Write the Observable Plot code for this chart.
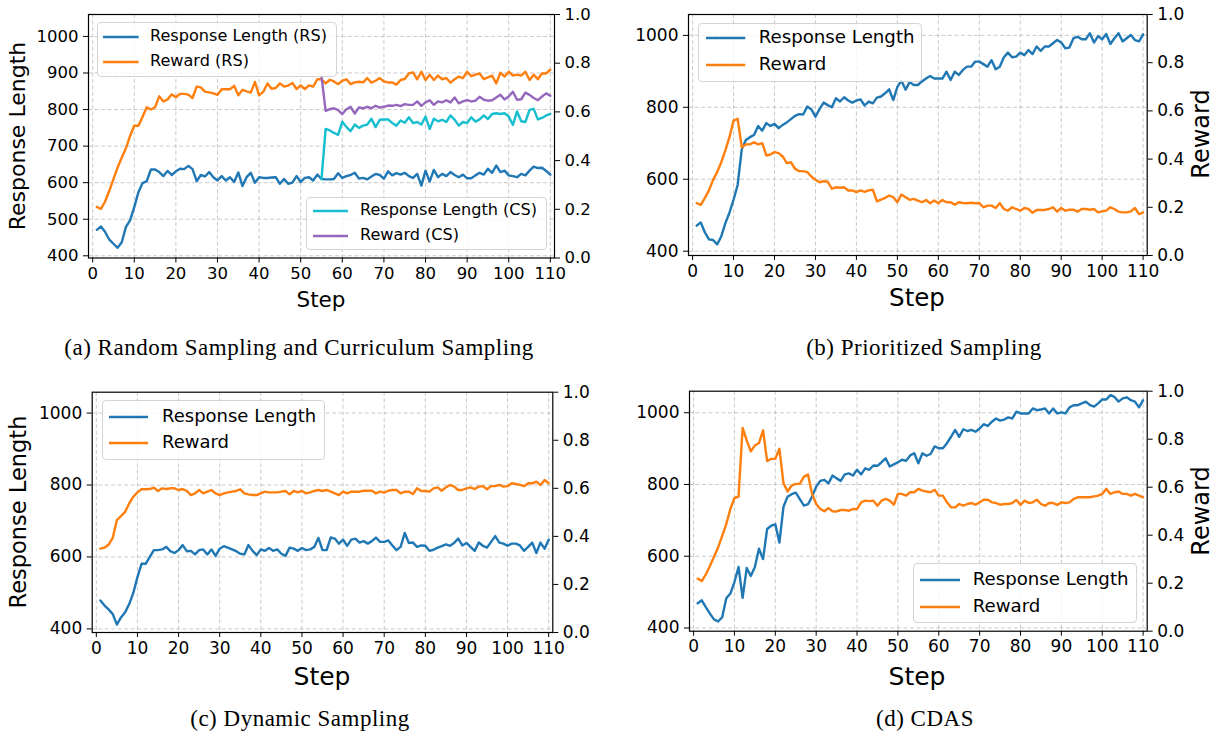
<!DOCTYPE html>
<html><head><meta charset="utf-8">
<script src="https://cdn.jsdelivr.net/npm/d3@7"></script>
<script src="https://cdn.jsdelivr.net/npm/@observablehq/plot@0.6"></script>
<style>
body{margin:0;background:#fff;}
#fig{position:relative;width:1215px;height:736px;overflow:hidden;background:#fff;}
#fig svg.plot{position:absolute;left:0;top:0;}
.lbl{position:absolute;white-space:nowrap;font-family:"DejaVu Sans";color:#000;line-height:1;transform:translate(-50%,-50%);}
.rot{transform:translate(-50%,-50%) rotate(-90deg);}
.cap{position:absolute;white-space:nowrap;font-family:"Liberation Serif";color:#000;line-height:1;letter-spacing:0.5px;transform:translate(-50%,-50%);}
.leg{position:absolute;box-sizing:border-box;border:1px solid #d4d4d4;border-radius:4px;background:rgba(255,255,255,0.8);}
.leg span{position:absolute;white-space:nowrap;font-family:"DejaVu Sans";color:#000;line-height:1;}
.leg svg{position:absolute;overflow:visible;}
</style></head><body><div id="fig"></div>
<script>
// ---------------- data ----------------
const steps = Array.from({length: 110}, (_, i) => i + 1);
const xTicks = [0, 10, 20, 30, 40, 50, 60, 70, 80, 90, 100, 110];
const rewardTicks = [0, 0.2, 0.4, 0.6, 0.8, 1.0];
const lengthTicksA = [400, 500, 600, 700, 800, 900, 1000];
const lengthTicks = [400, 600, 800, 1000];

// (a) Random Sampling (RS), steps 1..110
const lenRS = [471,480,465,444,433,422,437,479,497,533,
574,599,604,636,636,629,618,632,621,631,
638,637,646,637,604,621,617,629,615,606,
618,606,615,602,628,591,615,627,600,615,
613,613,614,615,597,610,597,600,618,602,
613,615,606,622,610,609,609,610,626,613,
618,621,627,611,613,609,617,624,621,611,
631,620,626,622,627,618,613,624,592,633,
603,635,615,624,618,629,621,615,622,612,
612,620,627,622,638,627,647,629,633,620,
618,615,624,620,633,644,640,641,632,622];
const rewRS = [.210,.202,.232,.276,.324,.372,.413,.451,.502,.543,
.543,.580,.619,.610,.619,.664,.643,.651,.672,.660,
.674,.674,.671,.657,.704,.701,.683,.680,.676,.670,
.693,.693,.693,.707,.668,.691,.684,.679,.723,.668,
.682,.717,.695,.698,.717,.704,.708,.719,.694,.709,
.694,.709,.704,.734,.734,.717,.732,.725,.714,.728,
.734,.714,.721,.724,.721,.739,.720,.728,.739,.725,
.721,.721,.712,.731,.735,.758,.762,.734,.765,.731,
.753,.731,.749,.734,.739,.720,.734,.745,.739,.765,
.747,.753,.758,.735,.742,.749,.717,.761,.745,.765,
.749,.753,.749,.765,.731,.753,.734,.758,.758,.773];
// (a) Curriculum Sampling (CS), steps 55..110
const csStart = 55;
const lenCS = [610,
747,743,736,731,767,752,741,759,750,756,
759,775,752,772,773,773,763,756,770,764,
779,763,766,759,781,747,775,768,772,766,
784,772,756,766,763,779,767,773,784,774,
788,790,788,790,781,758,795,768,766,799,
802,773,777,784,788];
const rewCS = [.745,
.604,.611,.615,.607,.591,.611,.621,.593,.618,.615,
.621,.615,.625,.618,.621,.626,.625,.629,.624,.632,
.629,.629,.643,.625,.639,.648,.629,.643,.639,.648,
.639,.659,.635,.643,.648,.643,.646,.662,.650,.646,
.648,.659,.670,.651,.663,.683,.650,.652,.679,.670,
.657,.648,.663,.676,.666];

// (b) Prioritized Sampling
const lenPS = [471,480,452,433,431,419,441,478,507,543,
584,683,709,717,723,748,735,756,748,754,
742,751,758,767,776,781,780,802,794,774,
795,813,806,800,825,816,828,819,813,819,
822,805,816,811,827,830,839,850,820,857,
874,849,870,862,862,872,880,887,880,880,
880,899,876,899,890,904,913,913,927,927,
920,913,931,906,913,939,952,939,941,952,
945,959,948,969,957,969,969,978,987,980,
964,966,992,996,989,989,1006,980,998,989,
1004,976,992,1006,983,992,1001,987,983,1003];
const rewPS = [.217,.210,.239,.270,.314,.346,.387,.436,.491,.560,
.567,.449,.461,.461,.470,.461,.466,.415,.419,.429,
.425,.411,.383,.387,.360,.350,.350,.346,.328,.314,
.304,.308,.306,.277,.283,.281,.283,.270,.270,.263,
.270,.264,.270,.273,.225,.232,.239,.249,.242,.221,
.253,.242,.231,.235,.228,.221,.230,.217,.228,.217,
.230,.221,.221,.211,.221,.218,.217,.219,.217,.218,
.200,.207,.207,.197,.217,.193,.186,.200,.193,.186,
.197,.193,.177,.189,.189,.189,.193,.200,.182,.197,
.186,.190,.190,.182,.193,.193,.190,.193,.179,.183,
.186,.200,.193,.182,.179,.179,.183,.197,.172,.178];

// (c) Dynamic Sampling
const lenDS = [479,465,454,441,412,432,446,469,500,544,
581,581,600,619,619,621,628,616,611,619,
633,616,617,607,619,621,607,621,603,623,
630,626,621,616,609,607,633,617,605,621,
617,625,617,621,609,603,626,623,617,625,
619,621,628,653,619,619,654,651,637,648,
631,648,651,640,644,637,644,654,642,642,
646,632,619,628,667,639,640,628,632,631,
617,620,626,630,635,631,639,651,632,639,
628,617,640,631,626,642,658,640,637,631,
637,637,632,617,628,640,611,640,623,648];
const rewDS = [.349,.353,.366,.394,.468,.484,.502,.537,.565,.583,
.596,.596,.597,.603,.589,.600,.597,.600,.600,.593,
.597,.589,.572,.579,.593,.579,.586,.593,.579,.572,
.579,.583,.586,.589,.596,.579,.575,.572,.572,.579,
.586,.583,.583,.583,.586,.589,.575,.589,.583,.589,
.579,.583,.589,.593,.589,.593,.586,.579,.572,.586,
.579,.586,.586,.586,.590,.590,.590,.579,.586,.582,
.590,.593,.593,.579,.586,.586,.576,.600,.589,.589,
.586,.600,.604,.590,.604,.614,.607,.593,.593,.600,
.604,.597,.607,.609,.596,.609,.609,.614,.607,.609,
.621,.618,.614,.609,.621,.621,.628,.614,.635,.621];

// (d) CDAS
const lenCD = [469,477,458,440,424,418,430,483,496,528,
570,484,567,545,570,621,592,676,685,689,
638,738,766,773,777,759,741,745,766,794,
810,813,803,825,817,810,828,831,825,841,
828,845,841,853,852,862,873,850,856,862,
869,866,881,887,859,887,880,885,906,901,
901,915,933,952,933,954,949,952,947,956,
968,963,975,984,978,981,987,984,1003,998,
998,998,1012,1007,1009,1012,998,1012,998,1001,
998,1015,1021,1021,1026,1031,1021,1017,1026,1037,
1037,1049,1044,1031,1040,1043,1035,1031,1015,1035];
const rewCD = [.219,.209,.237,.272,.310,.349,.397,.446,.509,.555,
.561,.847,.795,.749,.774,.784,.837,.709,.718,.718,
.760,.617,.582,.607,.614,.614,.644,.653,.572,.530,
.509,.500,.513,.500,.499,.505,.505,.502,.509,.509,
.537,.544,.542,.544,.523,.544,.551,.544,.527,.572,
.572,.565,.579,.579,.593,.586,.582,.579,.589,.565,
.565,.537,.516,.516,.530,.523,.530,.534,.527,.537,
.548,.548,.537,.534,.527,.530,.530,.534,.547,.526,
.544,.534,.537,.548,.530,.523,.534,.534,.526,.537,
.534,.537,.551,.558,.558,.558,.558,.562,.565,.572,
.593,.572,.579,.582,.572,.572,.565,.572,.565,.558];

const BLUE = "#1f77b4", ORANGE = "#ff7f0e", CYAN = "#17becf", PURPLE = "#9467bd";

// ---------------- drawing ----------------
const W = 1215, H = 736;
const fig = document.getElementById("fig");
const rows = (vals, start) => vals.map((v, i) => ({step: steps[start - 1 + i], v}));
const lineOpts = c => ({x: "step", y: "v", stroke: c, strokeWidth: 2.4, strokeLinejoin: "round", strokeLinecap: "round"});

function panel(p) {
  const m = {width: W, height: H, marginLeft: p.x0, marginRight: W - p.x1, marginTop: p.y0, marginBottom: H - p.y1,
    style: {background: "transparent", fontFamily: "DejaVu Sans", color: "#000", overflow: "visible"}};
  const gridStyle = {stroke: "#b0b0b0", strokeOpacity: 0.75, strokeDasharray: "4,2.5", strokeWidth: 0.9};
  const left = Plot.plot({...m,
    x: {domain: [-1, 111]}, y: {domain: p.yDomain},
    marks: [
      Plot.gridX({ticks: xTicks, ...gridStyle}),
      Plot.gridY({ticks: p.yTicks, ...gridStyle}),
      Plot.axisX({ticks: xTicks, tickFormat: d => String(d), tickSize: 5, tickPadding: 4, fontSize: p.fs, label: null}),
      Plot.axisY({ticks: p.yTicks, tickFormat: d => String(d), tickSize: 5, tickPadding: 5, fontSize: p.fs, label: null}),
      ...p.left.map(s => Plot.line(rows(s.values, s.start), lineOpts(s.color)))
    ]});
  const right = Plot.plot({...m,
    x: {domain: [-1, 111], axis: null}, y: {domain: [0, 1]},
    marks: [
      ...p.right.map(s => Plot.line(rows(s.values, s.start), lineOpts(s.color))),
      Plot.axisY({anchor: "right", ticks: rewardTicks, tickFormat: d => d.toFixed(1), tickSize: 5, tickPadding: 5, fontSize: p.fs, label: null}),
      Plot.frame({stroke: "#000", strokeWidth: 1.2})
    ]});
  left.classList.add("plot"); right.classList.add("plot");
  fig.appendChild(left); fig.appendChild(right);
}

function text(cls, str, x, y, fs) {
  const d = document.createElement("div");
  d.className = cls; d.textContent = str;
  d.style.left = x + "px"; d.style.top = y + "px"; d.style.fontSize = fs + "px";
  fig.appendChild(d);
}

function legend(b) {
  const d = document.createElement("div");
  d.className = "leg";
  Object.assign(d.style, {left: b.x + "px", top: b.y + "px", width: b.w + "px", height: b.h + "px"});
  b.items.forEach((it, i) => {
    const cy = b.rows[i];
    const s = document.createElementNS("http://www.w3.org/2000/svg", "svg");
    s.setAttribute("width", b.hx1 - b.hx0); s.setAttribute("height", 6);
    s.style.left = b.hx0 + "px"; s.style.top = (cy - 3) + "px";
    const l = document.createElementNS("http://www.w3.org/2000/svg", "line");
    l.setAttribute("x1", 0); l.setAttribute("x2", b.hx1 - b.hx0); l.setAttribute("y1", 3); l.setAttribute("y2", 3);
    l.setAttribute("stroke", it.color); l.setAttribute("stroke-width", 2.6);
    s.appendChild(l); d.appendChild(s);
    const t = document.createElement("span");
    t.textContent = it.label; t.style.fontSize = b.fs + "px";
    t.style.left = b.tx + "px"; t.style.top = (cy - b.fs * 0.56) + "px";
    d.appendChild(t);
  });
  fig.appendChild(d);
}

// (a)
panel({x0: 88, x1: 554, y0: 14, y1: 257.5, yDomain: [394, 1060], yTicks: lengthTicksA, fs: 16.5,
  left: [{values: lenRS, start: 1, color: BLUE}, {values: lenCS, start: csStart, color: CYAN}],
  right: [{values: rewRS, start: 1, color: ORANGE}, {values: rewCS, start: csStart, color: PURPLE}]});
// (b)
panel({x0: 688, x1: 1146.7, y0: 14, y1: 255, yDomain: [388, 1058], yTicks: lengthTicks, fs: 17,
  left: [{values: lenPS, start: 1, color: BLUE}],
  right: [{values: rewPS, start: 1, color: ORANGE}]});
// (c)
panel({x0: 91.7, x1: 552.3, y0: 391.7, y1: 632, yDomain: [390, 1058], yTicks: lengthTicks, fs: 17,
  left: [{values: lenDS, start: 1, color: BLUE}],
  right: [{values: rewDS, start: 1, color: ORANGE}]});
// (d)
panel({x0: 689, x1: 1146.7, y0: 390.7, y1: 630.7, yDomain: [391, 1060], yTicks: lengthTicks, fs: 17,
  left: [{values: lenCD, start: 1, color: BLUE}],
  right: [{values: rewCD, start: 1, color: ORANGE}]});

// axis labels
text("lbl rot", "Response Length", 18, 136, 22);
text("lbl", "Step", 321, 300, 21.5);
text("lbl", "Step", 917, 298, 24.5);
text("lbl rot", "Reward", 1201, 134, 24);
text("lbl rot", "Response Length", 18, 512, 22.5);
text("lbl", "Step", 322, 676, 25);
text("lbl", "Step", 917, 676, 25);
text("lbl rot", "Reward", 1201, 511, 24);

// legends
legend({x: 96.7, y: 21.7, w: 240, h: 55, fs: 16.1, rows: [14.3, 39], hx0: 5, hx1: 40.6, tx: 52.3,
  items: [{label: "Response Length (RS)", color: BLUE}, {label: "Reward (RS)", color: ORANGE}]});
legend({x: 306, y: 196.7, w: 240.7, h: 53.3, fs: 16.1, rows: [13.3, 38.3], hx0: 5.7, hx1: 40.7, tx: 53,
  items: [{label: "Response Length (CS)", color: CYAN}, {label: "Reward (CS)", color: PURPLE}]});
legend({x: 698.3, y: 22.7, w: 224, h: 59, fs: 18.2, rows: [14.6, 41.6], hx0: 6.7, hx1: 46, tx: 59.4,
  items: [{label: "Response Length", color: BLUE}, {label: "Reward", color: ORANGE}]});
legend({x: 101.7, y: 400, w: 223.3, h: 60, fs: 18, rows: [15.7, 42.3], hx0: 6, hx1: 45, tx: 59.3,
  items: [{label: "Response Length", color: BLUE}, {label: "Reward", color: ORANGE}]});
legend({x: 912.7, y: 563.3, w: 224.6, h: 59.4, fs: 18.2, rows: [15.7, 42.4], hx0: 6.6, hx1: 46.6, tx: 59,
  items: [{label: "Response Length", color: BLUE}, {label: "Reward", color: ORANGE}]});

// captions
text("cap", "(a) Random Sampling and Curriculum Sampling", 299, 347, 23);
text("cap", "(b) Prioritized Sampling", 924, 347, 23);
text("cap", "(c) Dynamic Sampling", 300, 718, 23);
text("cap", "(d) CDAS", 925, 718, 23);
</script></body></html>
